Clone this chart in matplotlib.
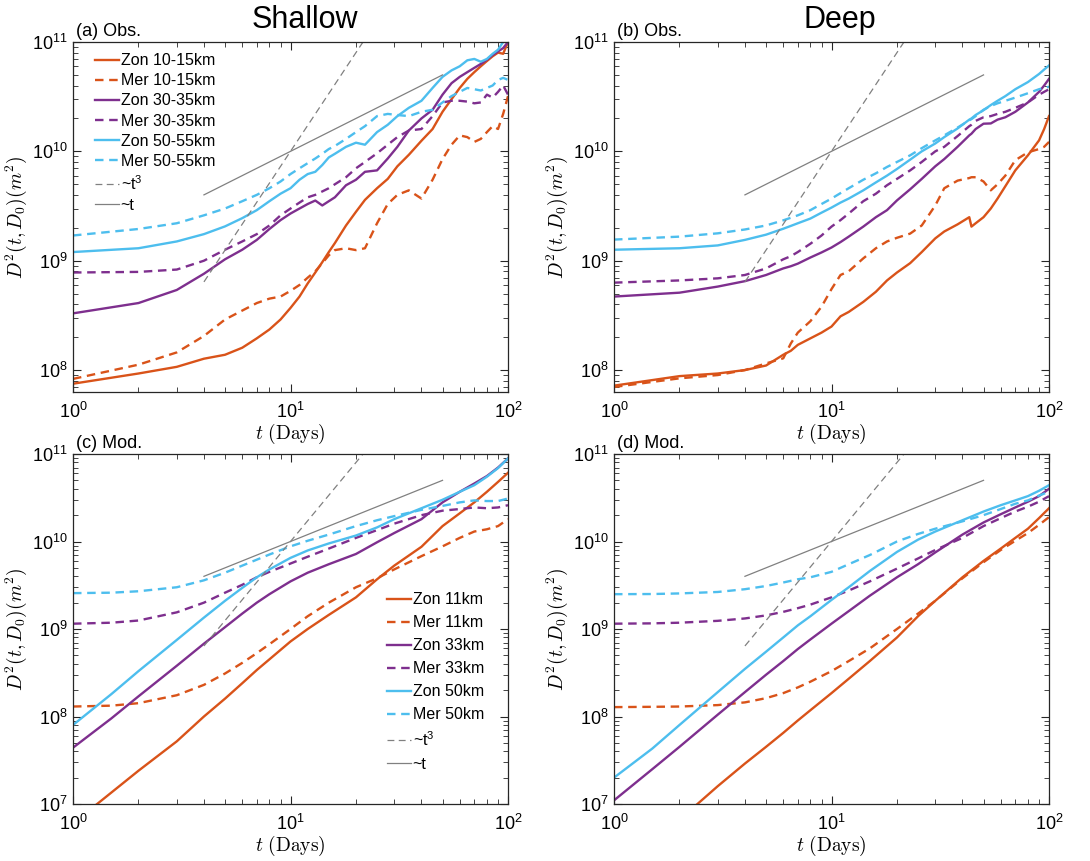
import matplotlib
matplotlib.use("Agg")
import matplotlib.pyplot as plt
import numpy as np
from matplotlib.ticker import LogLocator, NullFormatter, FuncFormatter

plt.rcParams['font.family'] = ['Liberation Sans', 'DejaVu Sans']
plt.rcParams['mathtext.fontset'] = 'cm'

# ---------------- data ----------------
days_a = [1, 2, 3, 4, 5, 6, 7, 8, 9, 10, 11, 12, 13, 14, 15, 16, 18, 20, 22, 25, 28, 31,
          35, 40, 45, 50, 55, 60, 65, 70, 75, 80, 85, 90, 95, 100]
a_zon10 = [7.5e7, 9.3e7, 1.07e8, 1.27e8, 1.38e8, 1.6e8, 1.95e8, 2.35e8, 2.9e8, 3.7e8, 4.7e8, 6.2e8,
           7.8e8, 9.7e8, 1.2e9, 1.45e9, 2.1e9, 2.8e9, 3.6e9, 4.6e9, 5.6e9, 7.3e9, 9.3e9, 1.25e10,
           1.6e10, 2.3e10, 3.0e10, 3.8e10, 4.6e10, 5.3e10, 6.0e10, 6.7e10, 7.4e10, 8.0e10, 7.8e10, 1.0e11]
a_mer10 = [8.3e7, 1.12e8, 1.45e8, 2.05e8, 2.9e8, 3.5e8, 4.1e8, 4.5e8, 4.7e8, 5.3e8, 6.0e8, 7.0e8,
           8.0e8, 9.5e8, 1.12e9, 1.25e9, 1.3e9, 1.25e9, 1.3e9, 2.2e9, 3.3e9, 4.0e9, 4.4e9, 3.7e9,
           5.5e9, 8.5e9, 1.15e10, 1.4e10, 1.35e10, 1.22e10, 1.3e10, 1.5e10, 1.7e10, 1.6e10, 2.2e10, 3.2e10]
a_zon30 = [3.3e8, 4.1e8, 5.4e8, 7.6e8, 1.03e9, 1.26e9, 1.55e9, 1.95e9, 2.35e9, 2.7e9, 3.0e9, 3.3e9,
           3.55e9, 3.2e9, 3.5e9, 3.8e9, 4.9e9, 5.5e9, 6.5e9, 6.7e9, 8.6e9, 1.1e10, 1.55e10, 2.0e10,
           2.4e10, 3.3e10, 4.2e10, 4.8e10, 5.3e10, 5.8e10, 6.3e10, 6.9e10, 7.6e10, 8.2e10, 8.8e10, 1.0e11]
a_mer30 = [7.8e8, 7.9e8, 8.3e8, 1.0e9, 1.26e9, 1.5e9, 1.75e9, 2.1e9, 2.6e9, 3.0e9, 3.4e9, 3.8e9,
           4.0e9, 4.3e9, 4.6e9, 5.0e9, 5.8e9, 7.0e9, 8.0e9, 9.6e9, 1.15e10, 1.35e10, 1.55e10, 1.6e10,
           2.1e10, 2.8e10, 2.9e10, 2.9e10, 2.85e10, 2.75e10, 2.8e10, 3.3e10, 3.1e10, 3.5e10, 4.0e10, 3.3e10]
a_zon50 = [1.2e9, 1.3e9, 1.5e9, 1.75e9, 2.06e9, 2.45e9, 2.9e9, 3.5e9, 4.1e9, 4.6e9, 5.5e9, 6.2e9,
           6.5e9, 7.5e9, 8.8e9, 9.5e9, 1.1e10, 1.2e10, 1.15e10, 1.5e10, 1.75e10, 2.1e10, 2.5e10, 2.9e10,
           3.8e10, 4.8e10, 5.5e10, 6.0e10, 6.8e10, 7.0e10, 6.6e10, 7.0e10, 7.8e10, 8.5e10, 1.0e11, 1.1e11]
a_mer50 = [1.7e9, 1.95e9, 2.2e9, 2.6e9, 3.0e9, 3.5e9, 4.0e9, 4.6e9, 5.3e9, 6.2e9, 7.0e9, 7.8e9,
           8.6e9, 9.5e9, 1.05e10, 1.12e10, 1.3e10, 1.5e10, 1.7e10, 2.1e10, 2.2e10, 2.15e10, 2.1e10, 2.3e10,
           2.4e10, 2.8e10, 3.2e10, 3.5e10, 3.8e10, 3.7e10, 3.6e10, 3.8e10, 4.0e10, 4.5e10, 4.7e10, 4.5e10]

days_b = [1, 2, 3, 4, 5, 6, 6.5, 7, 8, 9, 10, 11, 12, 14, 16, 18, 20, 23, 26, 30, 33, 38,
          43, 44, 46, 50, 54, 58, 63, 70, 80, 90, 95, 100]
b_zon10 = [7.2e7, 8.8e7, 9.3e7, 1.0e8, 1.1e8, 1.38e8, 1.5e8, 1.7e8, 1.95e8, 2.2e8, 2.5e8, 3.1e8,
           3.4e8, 4.2e8, 5.2e8, 6.6e8, 7.8e8, 9.5e8, 1.2e9, 1.6e9, 1.85e9, 2.15e9, 2.5e9, 2.05e9,
           2.2e9, 2.5e9, 3.0e9, 3.7e9, 4.8e9, 6.7e9, 9.2e9, 1.26e10, 1.6e10, 2.1e10]
b_mer10 = [7.0e7, 8.4e7, 9.0e7, 1.0e8, 1.15e8, 1.28e8, 1.75e8, 2.2e8, 2.8e8, 3.8e8, 5.5e8, 7.4e8,
           8.0e8, 1.05e9, 1.3e9, 1.5e9, 1.62e9, 1.77e9, 2.1e9, 3.2e9, 4.6e9, 5.4e9, 5.7e9, 5.8e9,
           5.8e9, 5.3e9, 4.4e9, 5.0e9, 6.0e9, 8.3e9, 9.8e9, 1.05e10, 1.1e10, 1.22e10]
b_zon30 = [4.7e8, 5.1e8, 5.8e8, 6.5e8, 7.4e8, 8.5e8, 8.9e8, 9.4e8, 1.07e9, 1.19e9, 1.32e9, 1.48e9,
           1.66e9, 2.05e9, 2.5e9, 2.9e9, 3.56e9, 4.5e9, 5.6e9, 7.3e9, 8.5e9, 1.1e10, 1.4e10, 1.45e10,
           1.6e10, 1.79e10, 1.8e10, 1.95e10, 2.05e10, 2.3e10, 2.8e10, 3.5e10, 4.0e10, 4.6e10]
b_mer30 = [6.3e8, 6.6e8, 6.9e8, 7.4e8, 8.5e8, 1.03e9, 1.1e9, 1.2e9, 1.43e9, 1.7e9, 2.05e9, 2.35e9,
           2.7e9, 3.5e9, 4.1e9, 4.9e9, 5.6e9, 6.7e9, 8.0e9, 1.0e10, 1.1e10, 1.38e10, 1.7e10, 1.75e10,
           1.9e10, 2.05e10, 2.1e10, 2.2e10, 2.3e10, 2.5e10, 2.8e10, 3.3e10, 3.5e10, 3.7e10]
b_zon50 = [1.26e9, 1.3e9, 1.38e9, 1.55e9, 1.73e9, 1.96e9, 2.08e9, 2.2e9, 2.43e9, 2.75e9, 3.06e9, 3.4e9,
           3.7e9, 4.4e9, 5.2e9, 6.0e9, 6.9e9, 8.4e9, 1.0e10, 1.18e10, 1.35e10, 1.62e10, 1.95e10, 2.0e10,
           2.15e10, 2.38e10, 2.65e10, 2.9e10, 3.2e10, 3.7e10, 4.3e10, 5.1e10, 5.6e10, 6.1e10]
b_mer50 = [1.56e9, 1.66e9, 1.78e9, 1.93e9, 2.1e9, 2.34e9, 2.47e9, 2.6e9, 2.9e9, 3.3e9, 3.7e9, 4.15e9,
           4.6e9, 5.5e9, 6.3e9, 7.2e9, 8.0e9, 9.2e9, 1.07e10, 1.26e10, 1.4e10, 1.65e10, 1.92e10, 1.97e10,
           2.1e10, 2.4e10, 2.6e10, 2.75e10, 2.9e10, 3.1e10, 3.4e10, 3.7e10, 3.8e10, 3.9e10]

days_m = [1, 1.5, 2, 3, 4, 5, 6, 7, 8, 10, 12, 15, 20, 25, 30, 40, 50, 60, 70, 80, 90, 100]
c_zon11 = [6.0e6, 1.35e7, 2.4e7, 5.2e7, 1.0e8, 1.6e8, 2.4e8, 3.4e8, 4.5e8, 7.2e8, 1.0e9, 1.45e9,
           2.3e9, 3.7e9, 5.3e9, 8.7e9, 1.5e10, 2.1e10, 2.8e10, 3.7e10, 4.8e10, 6.1e10]
c_mer11 = [1.3e8, 1.33e8, 1.42e8, 1.75e8, 2.3e8, 3.1e8, 4.1e8, 5.3e8, 6.7e8, 1.0e9, 1.4e9, 2.0e9,
           3.0e9, 3.8e9, 4.8e9, 6.8e9, 8.8e9, 1.1e10, 1.3e10, 1.38e10, 1.5e10, 1.8e10]
c_zon33 = [4.4e7, 9.5e7, 1.7e8, 3.8e8, 6.8e8, 1.05e9, 1.5e9, 2.0e9, 2.5e9, 3.5e9, 4.4e9, 5.5e9,
           7.2e9, 9.8e9, 1.25e10, 1.8e10, 2.8e10, 3.7e10, 4.6e10, 5.6e10, 7.0e10, 8.9e10]
c_mer33 = [1.15e9, 1.18e9, 1.25e9, 1.55e9, 2.0e9, 2.6e9, 3.2e9, 3.9e9, 4.5e9, 5.6e9, 6.7e9, 8.3e9,
           1.1e10, 1.35e10, 1.6e10, 2.0e10, 2.25e10, 2.35e10, 2.45e10, 2.4e10, 2.45e10, 2.6e10]
c_zon50 = [8.0e7, 1.8e8, 3.3e8, 7.5e8, 1.35e9, 2.1e9, 2.95e9, 3.9e9, 4.8e9, 6.5e9, 7.9e9, 9.5e9,
           1.17e10, 1.45e10, 1.8e10, 2.4e10, 3.0e10, 3.7e10, 4.4e10, 5.5e10, 6.9e10, 8.9e10]
c_mer50 = [2.57e9, 2.6e9, 2.7e9, 3.0e9, 3.6e9, 4.4e9, 5.3e9, 6.2e9, 7.1e9, 8.8e9, 1.02e10, 1.2e10,
           1.5e10, 1.75e10, 1.95e10, 2.3e10, 2.55e10, 2.8e10, 2.95e10, 2.9e10, 2.9e10, 3.1e10]

d_zon11 = [1.56e6, 3.6e6, 6.6e6, 1.6e7, 2.9e7, 4.5e7, 6.5e7, 9.0e7, 1.18e8, 1.85e8, 2.7e8, 4.3e8,
           8.0e8, 1.4e9, 2.1e9, 3.9e9, 6.0e9, 8.3e9, 1.1e10, 1.4e10, 1.85e10, 2.4e10]
d_mer11 = [1.28e8, 1.29e8, 1.3e8, 1.35e8, 1.45e8, 1.62e8, 1.85e8, 2.15e8, 2.5e8, 3.3e8, 4.3e8, 6.0e8,
           1.0e9, 1.5e9, 2.1e9, 3.8e9, 5.8e9, 8.0e9, 1.02e10, 1.25e10, 1.55e10, 1.9e10]
d_zon33 = [1.1e7, 2.5e7, 4.5e7, 1.05e8, 1.9e8, 3.0e8, 4.3e8, 5.9e8, 7.6e8, 1.15e9, 1.6e9, 2.4e9,
           3.9e9, 5.5e9, 7.5e9, 1.2e10, 1.65e10, 2.05e10, 2.45e10, 2.85e10, 3.3e10, 4.0e10]
d_mer33 = [1.15e9, 1.16e9, 1.18e9, 1.24e9, 1.32e9, 1.43e9, 1.57e9, 1.73e9, 1.9e9, 2.3e9, 2.75e9, 3.5e9,
           4.9e9, 6.4e9, 8.0e9, 1.1e10, 1.5e10, 1.85e10, 2.2e10, 2.5e10, 2.85e10, 3.3e10]
d_zon50 = [2.0e7, 4.3e7, 8.0e7, 1.9e8, 3.5e8, 5.5e8, 8.0e8, 1.1e9, 1.4e9, 2.15e9, 3.0e9, 4.6e9,
           7.6e9, 1.05e10, 1.3e10, 1.75e10, 2.2e10, 2.6e10, 2.95e10, 3.3e10, 3.8e10, 4.4e10]
d_mer50 = [2.5e9, 2.51e9, 2.55e9, 2.65e9, 2.85e9, 3.1e9, 3.4e9, 3.7e9, 3.9e9, 4.5e9, 5.5e9, 7.0e9,
           1.0e10, 1.22e10, 1.4e10, 1.7e10, 2.0e10, 2.35e10, 2.7e10, 2.95e10, 3.35e10, 3.7e10]

# reference power laws ~t^3 and ~t
ref_t3_days = [4, 21.5]
ref_t3_vals = [6.4e8, 9.94e10]
ref_t1_days = [4, 50]
ref_t1_vals = [4.0e9, 5.0e10]

labels_obs = ['Zon 10-15km', 'Mer 10-15km', 'Zon 30-35km', 'Mer 30-35km',
              'Zon 50-55km', 'Mer 50-55km', '~t$\\mathregular{^3}$', '~t']
labels_mod = ['Zon 11km', 'Mer 11km', 'Zon 33km', 'Mer 33km',
              'Zon 50km', 'Mer 50km', '~t$\\mathregular{^3}$', '~t']

# ---------------- style ----------------
C_OR = '#D95319'
C_PU = '#7E2F8E'
C_BL = '#4DBEEE'
C_GR = '#808080'
DASH = (0, (3.6, 2.4))
LW = 1.7

fig = plt.figure(figsize=(10.9, 8.61), dpi=100)
W = 435 / 1090
H = 350 / 861
pos = {
    'a': [73 / 1090, 1 - 392 / 861, W, H],
    'b': [614 / 1090, 1 - 392 / 861, W, H],
    'c': [73 / 1090, 1 - 804 / 861, W, H],
    'd': [614 / 1090, 1 - 804 / 861, W, H],
}


def fmt_pow(v, _):
    e = int(round(np.log10(v)))
    return '$\\mathregular{10^{%d}}$' % e


def draw(ax, days, series, ylim, tag):
    colors = [C_OR, C_OR, C_PU, C_PU, C_BL, C_BL]
    styles = ['-', DASH, '-', DASH, '-', DASH]
    handles = []
    for vals, c, s in zip(series, colors, styles):
        h, = ax.plot(days, vals, color=c, linestyle=s, linewidth=LW, solid_joinstyle='round')
        handles.append(h)
    h1, = ax.plot(ref_t3_days, ref_t3_vals, color=C_GR, linestyle=(0, (5.5, 3.5)), linewidth=0.9)
    h2, = ax.plot(ref_t1_days, ref_t1_vals, color=C_GR, linestyle='-', linewidth=0.9)
    handles += [h1, h2]
    ax.set_xscale('log')
    ax.set_yscale('log')
    ax.set_xlim(1, 100)
    ax.set_ylim(*ylim)
    ax.xaxis.set_major_locator(LogLocator(base=10, numticks=10))
    ax.yaxis.set_major_locator(LogLocator(base=10, numticks=10))
    ax.xaxis.set_minor_locator(LogLocator(base=10, subs=np.arange(2, 10), numticks=20))
    ax.yaxis.set_minor_locator(LogLocator(base=10, subs=np.arange(2, 10), numticks=20))
    ax.xaxis.set_major_formatter(FuncFormatter(fmt_pow))
    ax.yaxis.set_major_formatter(FuncFormatter(fmt_pow))
    ax.xaxis.set_minor_formatter(NullFormatter())
    ax.yaxis.set_minor_formatter(NullFormatter())
    ax.tick_params(which='both', direction='in', top=True, right=True, colors='#262626',
                   labelcolor='black', labelsize=13)
    ax.tick_params(which='major', length=6, width=0.8)
    ax.tick_params(which='minor', length=3.5, width=0.6)
    ax.tick_params(axis='x', which='major', pad=7)
    ax.tick_params(axis='y', which='major', pad=4)
    for sp in ax.spines.values():
        sp.set_color('#262626')
        sp.set_linewidth(0.9)
    ax.set_xlabel('$t\\ \\mathrm{(Days)}$', fontsize=14, labelpad=0)
    ax.set_ylabel('$D^2(t,D_0)(m^2)$', fontsize=14, labelpad=2)
    ax.text(0.008, 1.006, tag, transform=ax.transAxes, ha='left', va='bottom', fontsize=13)
    return handles


ax_a = fig.add_axes(pos['a'])
ha = draw(ax_a, days_a, [a_zon10, a_mer10, a_zon30, a_mer30, a_zon50, a_mer50],
          (6.3e7, 1e11), '(a) Obs.')
ax_a.legend(ha, labels_obs, loc='upper left', frameon=False, fontsize=11.5,
            handlelength=1.5, handletextpad=0.1, labelspacing=0.32,
            borderaxespad=0.3, bbox_to_anchor=(0.025, 1.0))

ax_b = fig.add_axes(pos['b'])
draw(ax_b, days_b, [b_zon10, b_mer10, b_zon30, b_mer30, b_zon50, b_mer50],
     (6.3e7, 1e11), '(b) Obs.')

ax_c = fig.add_axes(pos['c'])
hc = draw(ax_c, days_m, [c_zon11, c_mer11, c_zon33, c_mer33, c_zon50, c_mer50],
          (1e7, 1e11), '(c) Mod.')
ax_c.legend(hc, labels_mod, loc='lower right', frameon=False, fontsize=11.5,
            handlelength=1.5, handletextpad=0.1, labelspacing=0.5,
            borderaxespad=0.3, bbox_to_anchor=(0.97, 0.06))

ax_d = fig.add_axes(pos['d'])
draw(ax_d, days_m, [d_zon11, d_mer11, d_zon33, d_mer33, d_zon50, d_mer50],
     (1e7, 1e11), '(d) Mod.')

fig.text(305 / 1090, 1 - 20 / 861, 'Shallow', ha='center', va='center', fontsize=22)
fig.text(840 / 1090, 1 - 20 / 861, 'Deep', ha='center', va='center', fontsize=22)

fig.savefig('out.png', dpi=100)
